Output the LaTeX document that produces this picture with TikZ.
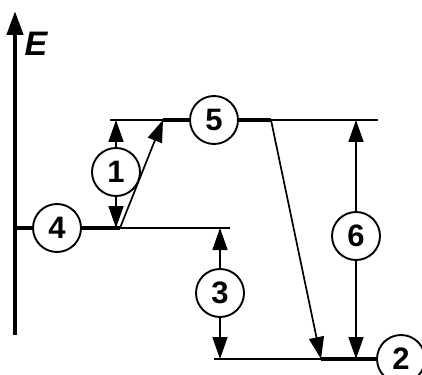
\documentclass[tikz,border=0pt]{standalone}
\usepackage{fontspec}
\setmainfont{Liberation Sans}
\usetikzlibrary{arrows.meta}
\begin{document}
\begin{tikzpicture}[x=1pt,y=-1pt,
  lvl/.style={line width=3.4pt},
  thinl/.style={line width=1.7pt},
  num/.style={circle,draw,line width=1.9pt,fill=white,minimum size=48pt,inner sep=0pt,font=\fontsize{31}{31}\selectfont\bfseries},
  arr/.style={line width=1.7pt,-{Triangle[length=22pt,width=15pt]}}]
\useasboundingbox (0,0) rectangle (422,374);
% axis
\coordinate (axb) at (15,335);
\coordinate (axt) at (15,11);
\draw[line width=4.5pt,-{Triangle[length=24pt,width=16pt]}] (axb) -- (axt);
\node[font=\fontsize{34}{34}\selectfont\bfseries\itshape] (E) at (36,44) {E};
% level coordinates
\coordinate (l4a) at (15,228);
\coordinate (l4b) at (120,228);
\coordinate (l4c) at (230,228);
\coordinate (l5a) at (110,120);
\coordinate (l5b) at (163,120);
\coordinate (l5c) at (271,120);
\coordinate (l5d) at (378,120);
\coordinate (l2a) at (214,359);
\coordinate (l2b) at (321,359);
\coordinate (l2c) at (401,359);
\coordinate (a1t) at (116,120);
\coordinate (a1b) at (116,228);
\coordinate (a3t) at (220,228);
\coordinate (a3b) at (220,359);
\coordinate (a6t) at (356,120);
\coordinate (a6b) at (356,359);
% lines
\draw[thinl] (l4a) -- (l4c);
\draw[lvl] (l4a) -- (l4b);
\draw[thinl] (l5a) -- (l5d);
\draw[lvl] (l5b) -- (l5c);
\draw[thinl] (l2a) -- (l2c);
\draw[lvl] (l2b) -- (l2c);
% diagonal transitions
\draw[arr] (l4b) -- (l5b);
\draw[arr] (l5c) -- (l2b);
% numbered circles
\node[num] (n4) at (57,228) {4};
\node[num] (n5) at (214,120) {5};
\node[num] (n2) at (401,359) {2};
\node[num] (n1) at (116,172) {1};
\node[num] (n3) at (220,293) {3};
\node[num] (n6) at (356,236) {6};
% vertical arrows
\draw[arr] (n1) -- (a1t);
\draw[arr] (n1) -- (a1b);
\draw[arr] (n3) -- (a3t);
\draw[arr] (n3) -- (a3b);
\draw[arr] (n6) -- (a6t);
\draw[arr] (n6) -- (a6b);
\end{tikzpicture}
\end{document}
